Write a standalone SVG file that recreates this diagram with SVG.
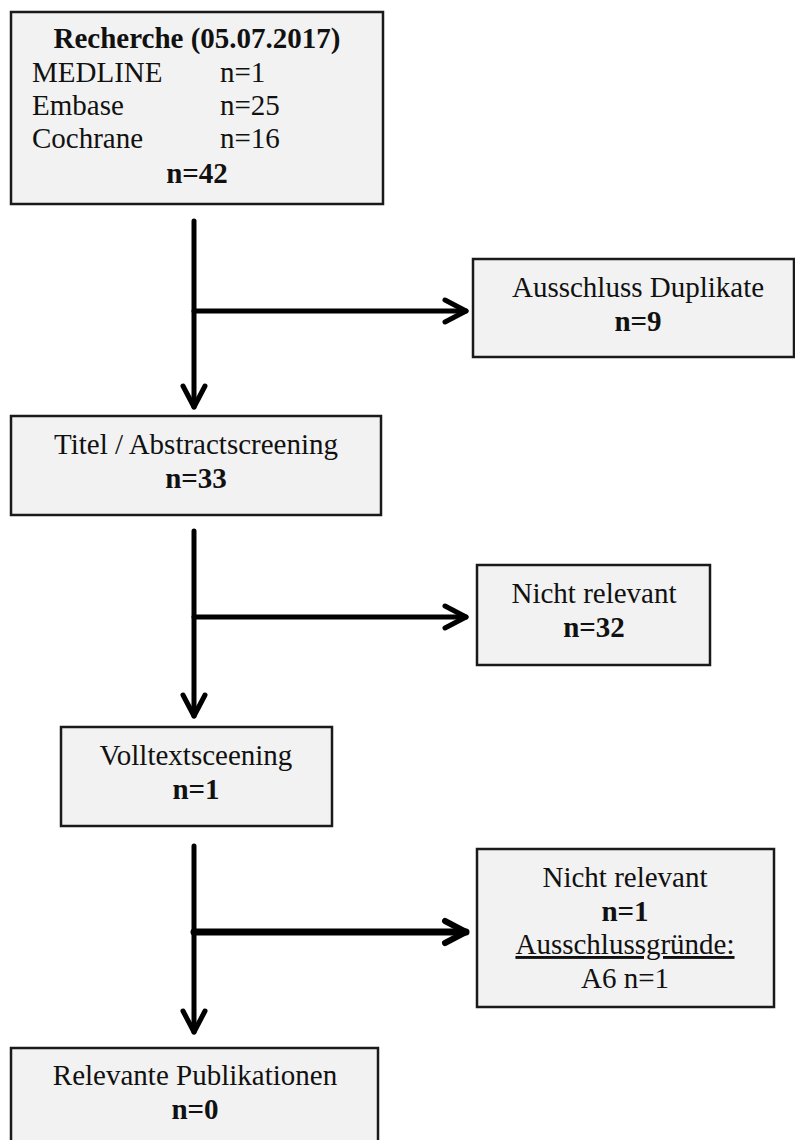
<svg xmlns="http://www.w3.org/2000/svg" width="795" height="1140" viewBox="0 0 795 1140">
<style>
.box{fill:#f2f2f2;stroke:#1a1a1a;stroke-width:2.5}
text{font-family:"Liberation Serif","Times New Roman",serif;font-size:29px;fill:#111}
.c{text-anchor:middle}
.b{font-weight:bold}
.ln{stroke:#000;stroke-width:5;fill:none;stroke-linecap:round;stroke-linejoin:round}
</style>
<rect width="795" height="1140" fill="#fff"/>
<g id="connectors">
<line class="ln" x1="194" y1="221" x2="194" y2="407"/>
<polyline class="ln" points="183,386 194,407 205,386"/>
<line class="ln" x1="194" y1="311" x2="466" y2="311"/>
<polyline class="ln" points="445,300 466,311 445,322"/>
<line class="ln" x1="194" y1="531" x2="194" y2="716"/>
<polyline class="ln" points="183,695 194,716 205,695"/>
<line class="ln" x1="194" y1="617" x2="466" y2="617"/>
<polyline class="ln" points="445,606 466,617 445,628"/>
<line class="ln" x1="194" y1="846" x2="194" y2="1032"/>
<polyline class="ln" points="183,1011 194,1032 205,1011"/>
<line class="ln" style="stroke-width:7" x1="194" y1="932" x2="466" y2="932"/>
<polyline class="ln" style="stroke-width:6" points="445,921 466,932 445,943"/>
</g>
<g id="recherche">
<rect class="box" x="11" y="12" width="372" height="192"/>
<text class="c b" x="197" y="48">Recherche (05.07.2017)</text>
<text x="32" y="82">MEDLINE</text><text x="220" y="82">n=1</text>
<text x="32" y="115">Embase</text><text x="220" y="115">n=25</text>
<text x="32" y="148">Cochrane</text><text x="220" y="148">n=16</text>
<text class="c b" x="197" y="183">n=42</text>
</g>
<g id="duplikate">
<rect class="box" x="473" y="259" width="321" height="98"/>
<text class="c" x="638" y="297">Ausschluss Duplikate</text>
<text class="c b" x="638" y="331">n=9</text>
</g>
<g id="titel">
<rect class="box" x="11" y="416" width="370" height="99"/>
<text class="c" x="196" y="454">Titel / Abstractscreening</text>
<text class="c b" x="196" y="488">n=33</text>
</g>
<g id="nichtrelevant1">
<rect class="box" x="477" y="565" width="233" height="100"/>
<text class="c" x="594" y="603">Nicht relevant</text>
<text class="c b" x="594" y="637">n=32</text>
</g>
<g id="volltext">
<rect class="box" x="61" y="727" width="271" height="99"/>
<text class="c" x="196" y="765">Volltextsceening</text>
<text class="c b" x="196" y="799">n=1</text>
</g>
<g id="nichtrelevant2">
<rect class="box" x="477" y="849" width="297" height="158"/>
<text class="c" x="625" y="887">Nicht relevant</text>
<text class="c b" x="625" y="921">n=1</text>
<text class="c" x="625" y="954" text-decoration="underline">Ausschlussgründe:</text>
<text class="c" x="625" y="988">A6 n=1</text>
</g>
<g id="relevante">
<rect class="box" x="11" y="1048" width="367" height="110"/>
<text class="c" x="195" y="1085">Relevante Publikationen</text>
<text class="c b" x="195" y="1119">n=0</text>
</g>
</svg>
